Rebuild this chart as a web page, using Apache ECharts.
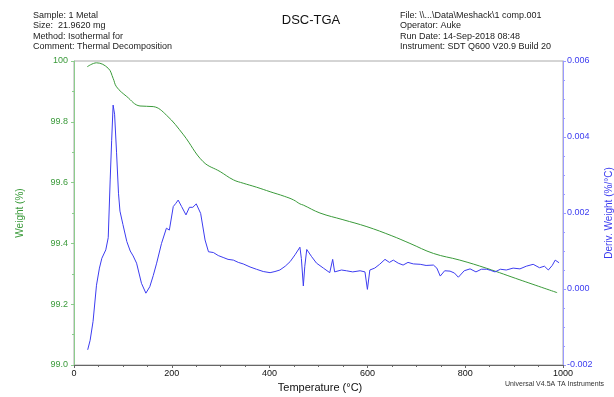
<!DOCTYPE html>
<html>
<head>
<meta charset="utf-8">
<script src="https://cdn.jsdelivr.net/npm/echarts@6/dist/echarts.min.js"></script>
<style>
  html, body { margin: 0; padding: 0; background: #fff; }
  #main { width: 614px; height: 397px; }
</style>
</head>
<body>
<div id="main"></div>
<script>
// weight curve (TGA)
var weightTemp = [27, 46, 70, 80, 87, 108, 135, 162, 189, 224, 264, 299, 326, 346, 373, 401, 430, 449, 462, 469, 503, 550, 599, 650, 687, 735, 789, 844, 912, 988];
var weightPct = [99.981, 99.994, 99.976, 99.943, 99.915, 99.883, 99.852, 99.850, 99.822, 99.757, 99.669, 99.636, 99.609, 99.598, 99.585, 99.570, 99.555, 99.543, 99.530, 99.526, 99.500, 99.478, 99.455, 99.425, 99.400, 99.367, 99.345, 99.318, 99.280, 99.238];

// derivative weight curve (DTG)
var derivTemp = [28, 33, 39, 46, 52, 57, 65, 70, 74, 77, 80, 83, 87, 91, 94, 100, 108, 115, 121, 128, 138, 147, 155, 162, 169, 179, 189, 195, 203, 208, 213, 220, 229, 236, 243, 250, 259, 268, 275, 285, 295, 305, 315, 326, 336, 346, 360, 373, 387, 401, 411, 421, 432, 442, 452, 462, 465, 469, 472, 476, 486, 496, 510, 523, 529, 533, 537, 547, 557, 570, 585, 595, 600, 605, 615, 625, 636, 645, 653, 663, 673, 683, 694, 708, 720, 735, 742, 749, 758, 769, 778, 786, 798, 810, 822, 833, 844, 852, 861, 872, 884, 898, 912, 925, 939, 952, 962, 970, 978, 984, 992];
var derivVal = [-0.00160, -0.00135, -0.00085, 0.00010, 0.00055, 0.00081, 0.00103, 0.00135, 0.00287, 0.00390, 0.00484, 0.00460, 0.00360, 0.00252, 0.00205, 0.00170, 0.00125, 0.00100, 0.00087, 0.00068, 0.00015, -0.00011, 0.00006, 0.00035, 0.00068, 0.00120, 0.00160, 0.00155, 0.00217, 0.00225, 0.00234, 0.00217, 0.00195, 0.00215, 0.00215, 0.00224, 0.00199, 0.00129, 0.00098, 0.00096, 0.00088, 0.00083, 0.00078, 0.00076, 0.00070, 0.00066, 0.00058, 0.00052, 0.00046, 0.00043, 0.00046, 0.00050, 0.00060, 0.00072, 0.00090, 0.00110, 0.00080, 0.00008, 0.00060, 0.00104, 0.00085, 0.00068, 0.00055, 0.00043, 0.00078, 0.00045, 0.00041, 0.00050, 0.00048, 0.00045, 0.00048, 0.00045, -0.00001, 0.00050, 0.00055, 0.00065, 0.00078, 0.00070, 0.00076, 0.00068, 0.00063, 0.00070, 0.00066, 0.00065, 0.00062, 0.00063, 0.00055, 0.00034, 0.00048, 0.00047, 0.00042, 0.00031, 0.00048, 0.00053, 0.00045, 0.00052, 0.00052, 0.00049, 0.00045, 0.00052, 0.00050, 0.00055, 0.00053, 0.00060, 0.00065, 0.00056, 0.00060, 0.00050, 0.00062, 0.00076, 0.00069];

var infoLeft = ['Sample: 1 Metal', 'Size:  21.9620 mg', 'Method: Isothermal for', 'Comment: Thermal Decomposition'];
var infoRight = ['File: \\\\...\\Data\\Meshack\\1 comp.001', 'Operator: Auke', 'Run Date: 14-Sep-2018 08:48', 'Instrument: SDT Q600 V20.9 Build 20'];

var green = '#3a9a3a';
var blue = '#3c3cf0';
var font = 'Liberation Sans, Arial, sans-serif';

function pairs(xs, ys) {
  return xs.map(function (x, i) { return [x, ys[i]]; });
}

echarts.init(document.getElementById('main')).setOption({
  animation: false,
  grid: {
    left: 74, right: 51, top: 61, bottom: 32,
    show: true, borderColor: '#aaa', borderWidth: 1
  },
  graphic: [
    { type: 'text', left: 33, top: 10, style: { text: infoLeft.join('\n'), font: '9px ' + font, lineHeight: 10.5, fill: '#222' } },
    { type: 'text', left: 400, top: 10, style: { text: infoRight.join('\n'), font: '9px ' + font, lineHeight: 10.5, fill: '#222' } },
    { type: 'text', x: 311, y: 20, style: { text: 'DSC-TGA', font: '13px ' + font, fill: '#111', align: 'center', verticalAlign: 'middle' } },
    { type: 'text', x: 20, y: 213, rotation: Math.PI / 2, style: { text: 'Weight (%)', font: '10px ' + font, fill: green, align: 'center', verticalAlign: 'middle' } },
    { type: 'text', x: 609, y: 213, rotation: Math.PI / 2, style: { text: 'Deriv. Weight (%/°C)', font: '10px ' + font, fill: blue, align: 'center', verticalAlign: 'middle' } },
    { type: 'text', x: 320, y: 388, style: { text: 'Temperature (°C)', font: '11px ' + font, fill: '#111', align: 'center', verticalAlign: 'middle' } },
    { type: 'text', x: 505, y: 384, style: { text: 'Universal V4.5A TA Instruments', font: '7px ' + font, fill: '#333', verticalAlign: 'middle' } }
  ],
  xAxis: {
    type: 'value',
    min: 0, max: 1000, interval: 200,
    axisLine: { onZero: false, lineStyle: { color: '#666' } },
    axisTick: { length: 3, lineStyle: { color: '#666' } },
    minorTick: { show: true, splitNumber: 4, length: 2, lineStyle: { color: '#666' } },
    axisLabel: { color: '#111', fontSize: 9, fontFamily: font, margin: 4, formatter: function (v) { return String(v); } },
    splitLine: { show: false }
  },
  yAxis: [{
    type: 'value',
    min: 99.0, max: 100, interval: 0.2,
    axisLine: { show: true, onZero: false, lineStyle: { color: '#8ccc8c' } },
    axisTick: { show: true, length: 3, lineStyle: { color: '#8ccc8c' } },
    minorTick: { show: true, splitNumber: 2, length: 2, lineStyle: { color: '#8ccc8c' } },
    axisLabel: {
      color: green, fontSize: 9, fontFamily: font, margin: 6,
      formatter: function (v) { return v === 100 ? '100' : v.toFixed(1); }
    },
    splitLine: { show: false }
  }, {
    type: 'value',
    position: 'right',
    min: -0.002, max: 0.006, interval: 0.002,
    axisLine: { show: true, onZero: false, lineStyle: { color: '#9a9aff' } },
    axisTick: { show: true, length: 3, lineStyle: { color: '#9a9aff' } },
    minorTick: { show: true, splitNumber: 4, length: 2, lineStyle: { color: '#9a9aff' } },
    axisLabel: {
      color: blue, fontSize: 9, fontFamily: font, margin: 4,
      formatter: function (v) { return v.toFixed(3); }
    },
    splitLine: { show: false }
  }],
  series: [{
    type: 'line',
    name: 'Weight',
    yAxisIndex: 0,
    smooth: 0.4,
    symbol: 'none',
    lineStyle: { color: green, width: 1 },
    data: pairs(weightTemp, weightPct)
  }, {
    type: 'line',
    name: 'Deriv. Weight',
    yAxisIndex: 1,
    smooth: false,
    symbol: 'none',
    lineStyle: { color: blue, width: 1 },
    data: pairs(derivTemp, derivVal)
  }]
});
</script>
</body>
</html>
